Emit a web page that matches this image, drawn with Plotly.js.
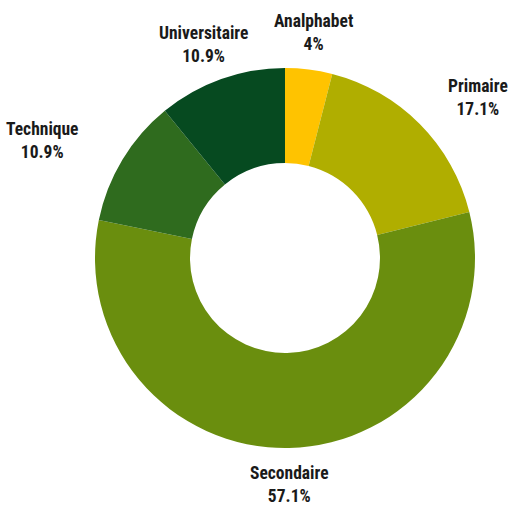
<!DOCTYPE html>
<html>
<head>
<meta charset="utf-8">
<script src="https://cdn.plot.ly/plotly-3.0.1.min.js"></script>
<style>html,body{margin:0;padding:0;background:#fff;}#chart{width:511px;height:505px;}</style>
</head>
<body>
<div id="chart"></div>
<script>
const categories = ["Analphabet", "Primaire", "Secondaire", "Technique", "Universitaire"];
const values = [4, 17.1, 57.1, 10.9, 10.9];
const colors = ["#FFC300", "#B0AE00", "#6A8E0E", "#2F6B1E", "#064A20"];

const W = 511, H = 505;
const dom = {x: [95/W, 475/W], y: [57/H, 437/H]};
const cx = (dom.x[0] + dom.x[1]) / 2, cy = (dom.y[0] + dom.y[1]) / 2;
const labelFont = {family: "'Roboto Condensed', Roboto, sans-serif", size: 17.5, color: "#1a1a1a"};

// label placement around the ring, derived from each slice's mid-angle
const total = values.reduce((a, b) => a + b, 0);
let cum = 0;
const annotations = categories.map((c, i) => {
  const mid = (cum + values[i] / 2) / total * 2 * Math.PI;
  cum += values[i];
  const s = Math.sin(mid), k = Math.cos(mid);
  const rx = 215 + 80 * Math.abs(s), ry = 227;
  return {
    xref: "paper", yref: "paper",
    x: cx + rx * s / W,
    y: cy + ry * k / H,
    xanchor: "center", yanchor: "middle",
    showarrow: false,
    align: "center",
    text: "<b>" + c + "</b><br><b>" + values[i] + "%</b>",
    font: labelFont
  };
});

const trace = {
  type: "pie",
  labels: categories,
  values: values,
  hole: 0.5,
  sort: false,
  direction: "clockwise",
  rotation: 0,
  marker: {colors: colors, line: {color: "#ffffff", width: 0}},
  textinfo: "none",
  automargin: false,
  domain: dom,
  hoverinfo: "label+percent"
};

const layout = {
  width: W,
  height: H,
  margin: {l: 0, r: 0, t: 0, b: 0},
  showlegend: false,
  paper_bgcolor: "#ffffff",
  plot_bgcolor: "#ffffff",
  annotations: annotations
};

Plotly.newPlot("chart", [trace], layout, {displayModeBar: false, staticPlot: true});
</script>
</body>
</html>
